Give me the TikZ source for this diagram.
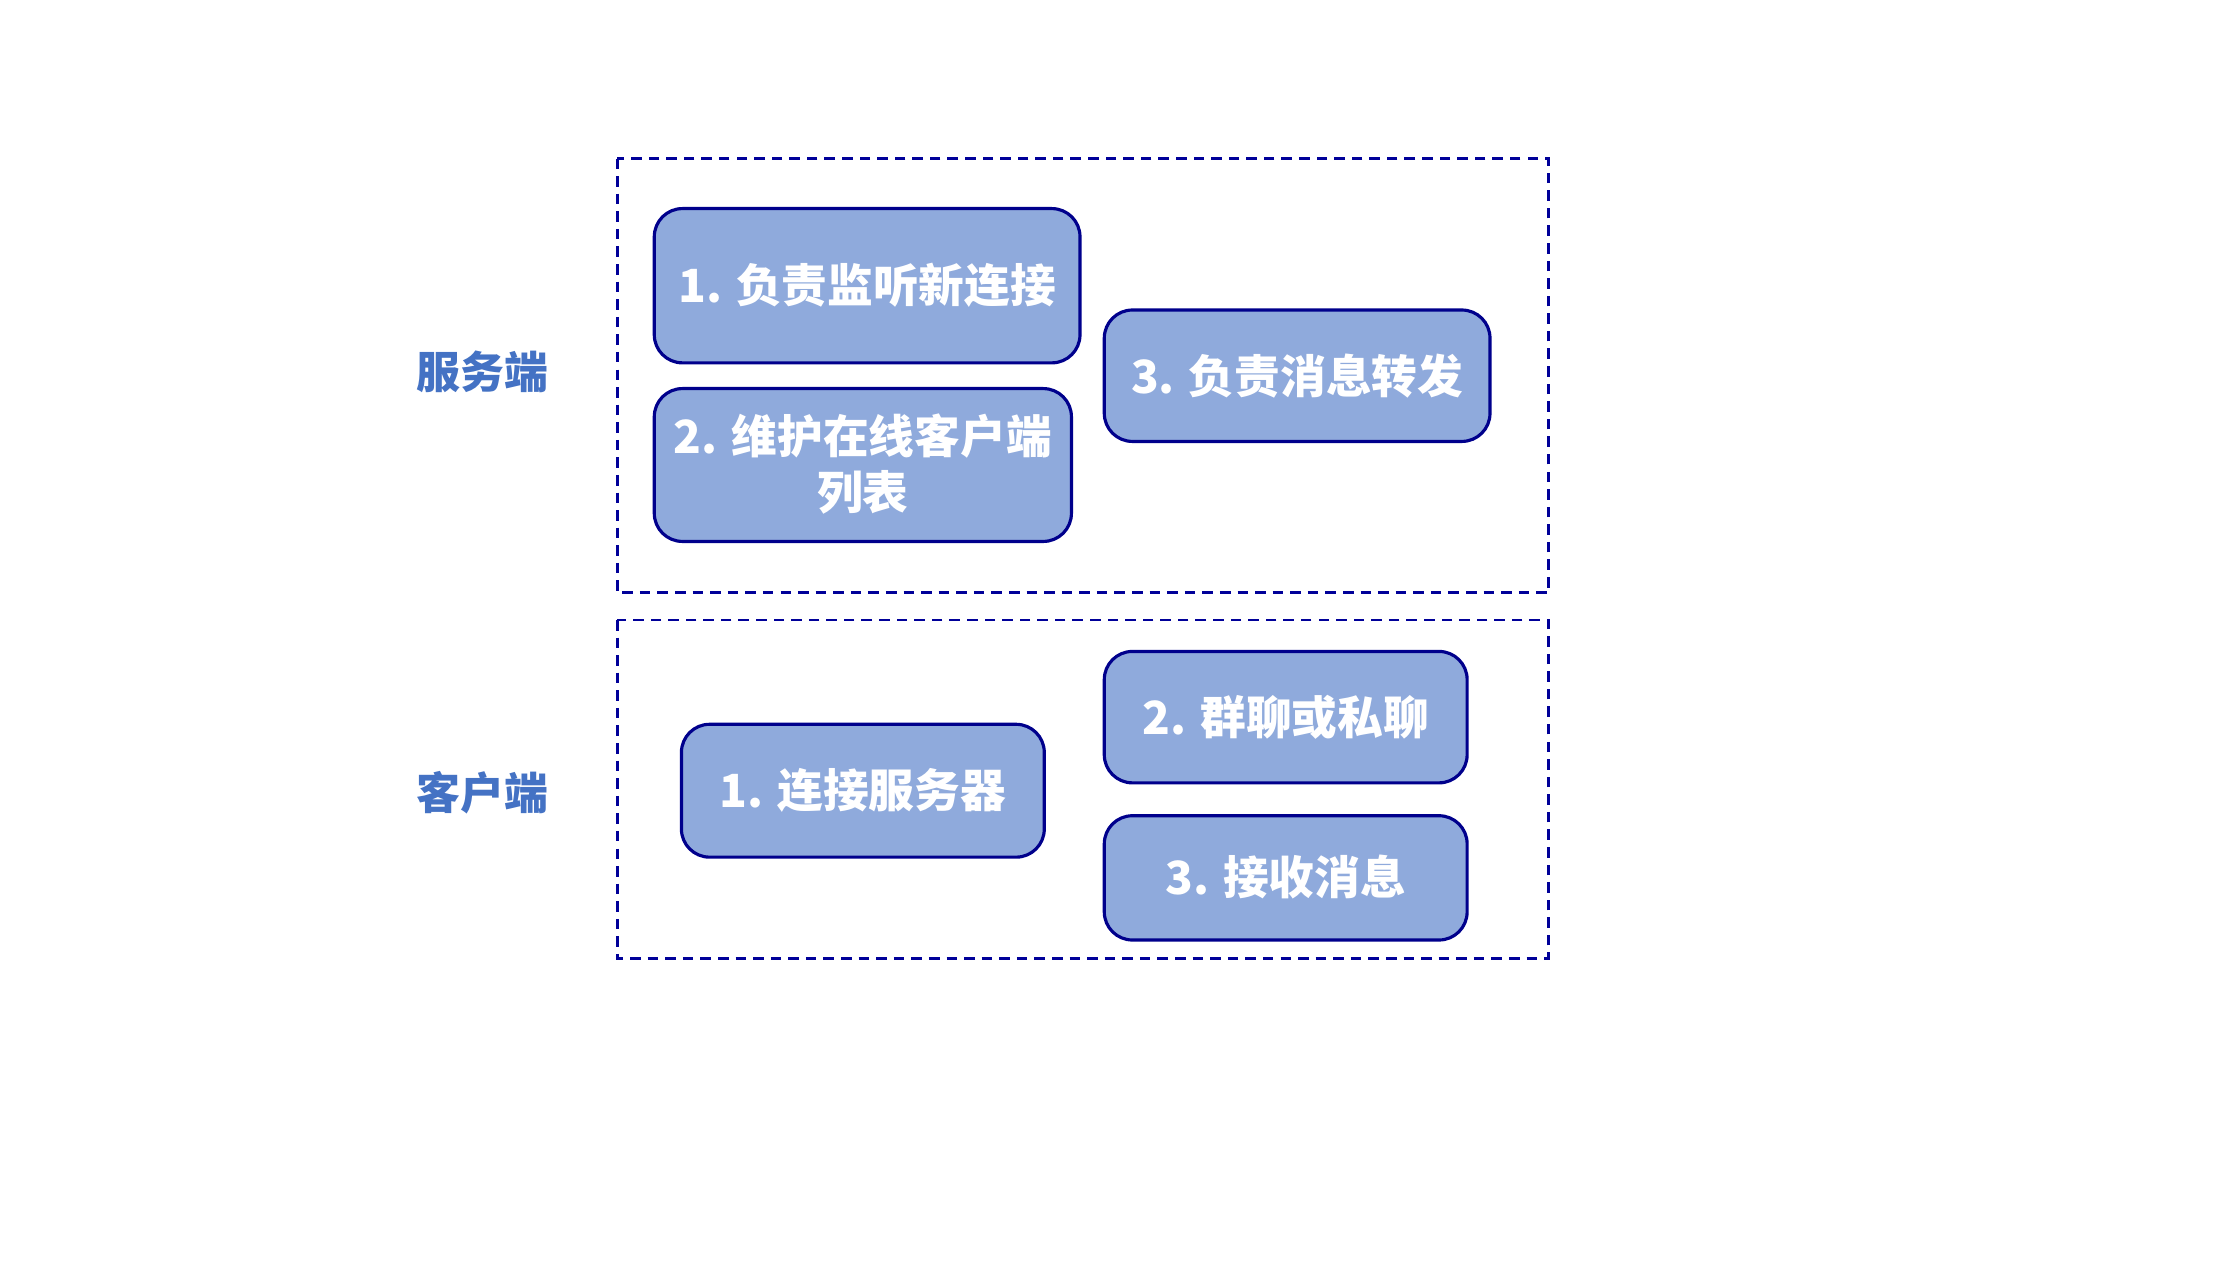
\documentclass[tikz,border=0pt]{standalone}
\usepackage{fontspec}
\setmainfont{Noto Sans CJK SC}
\begin{document}
\begin{tikzpicture}[x=0.014286cm,y=-0.014286cm,
  grp/.style={draw=blue!60!black,densely dashed,line width=0.8pt},
  box/.style={draw=blue!55!black,fill=fillc,rounded corners=8pt,line width=0.9pt},
  txt/.style={text=white,font=\bfseries\fontsize{13}{16}\selectfont,align=center},
  lab/.style={text=labc,font=\bfseries\fontsize{12.5}{15}\selectfont}]
\definecolor{fillc}{HTML}{8FAADC}
\definecolor{labc}{HTML}{4472C4}
\colorlet{blue!55!black}{blue!55!black}
\useasboundingbox (0,0) rectangle (1568,882);
\draw[grp] (432,111) rectangle (1084,415);
\draw[grp] (432,434) rectangle (1084,671);
\draw[box] (458,146) rectangle (756,254); \node[txt] (s1) at (607,200) {1. 负责监听新连接};
\draw[box] (458,272) rectangle (750,379); \node[txt] (s2) at (604,325) {2. 维护在线客户端\\列表};
\draw[box] (773,217) rectangle (1043,309); \node[txt] (s3) at (908,263) {3. 负责消息转发};
\draw[box] (477,507) rectangle (731,600); \node[txt] (c1) at (604,553) {1. 连接服务器};
\draw[box] (773,456) rectangle (1027,548); \node[txt] (c2) at (900,502) {2. 群聊或私聊};
\draw[box] (773,571) rectangle (1027,658); \node[txt] (c3) at (900,614) {3. 接收消息};
\node[lab] (l1) at (338,260) {服务端};
\node[lab] (l2) at (338,555) {客户端};
\end{tikzpicture}
\end{document}
